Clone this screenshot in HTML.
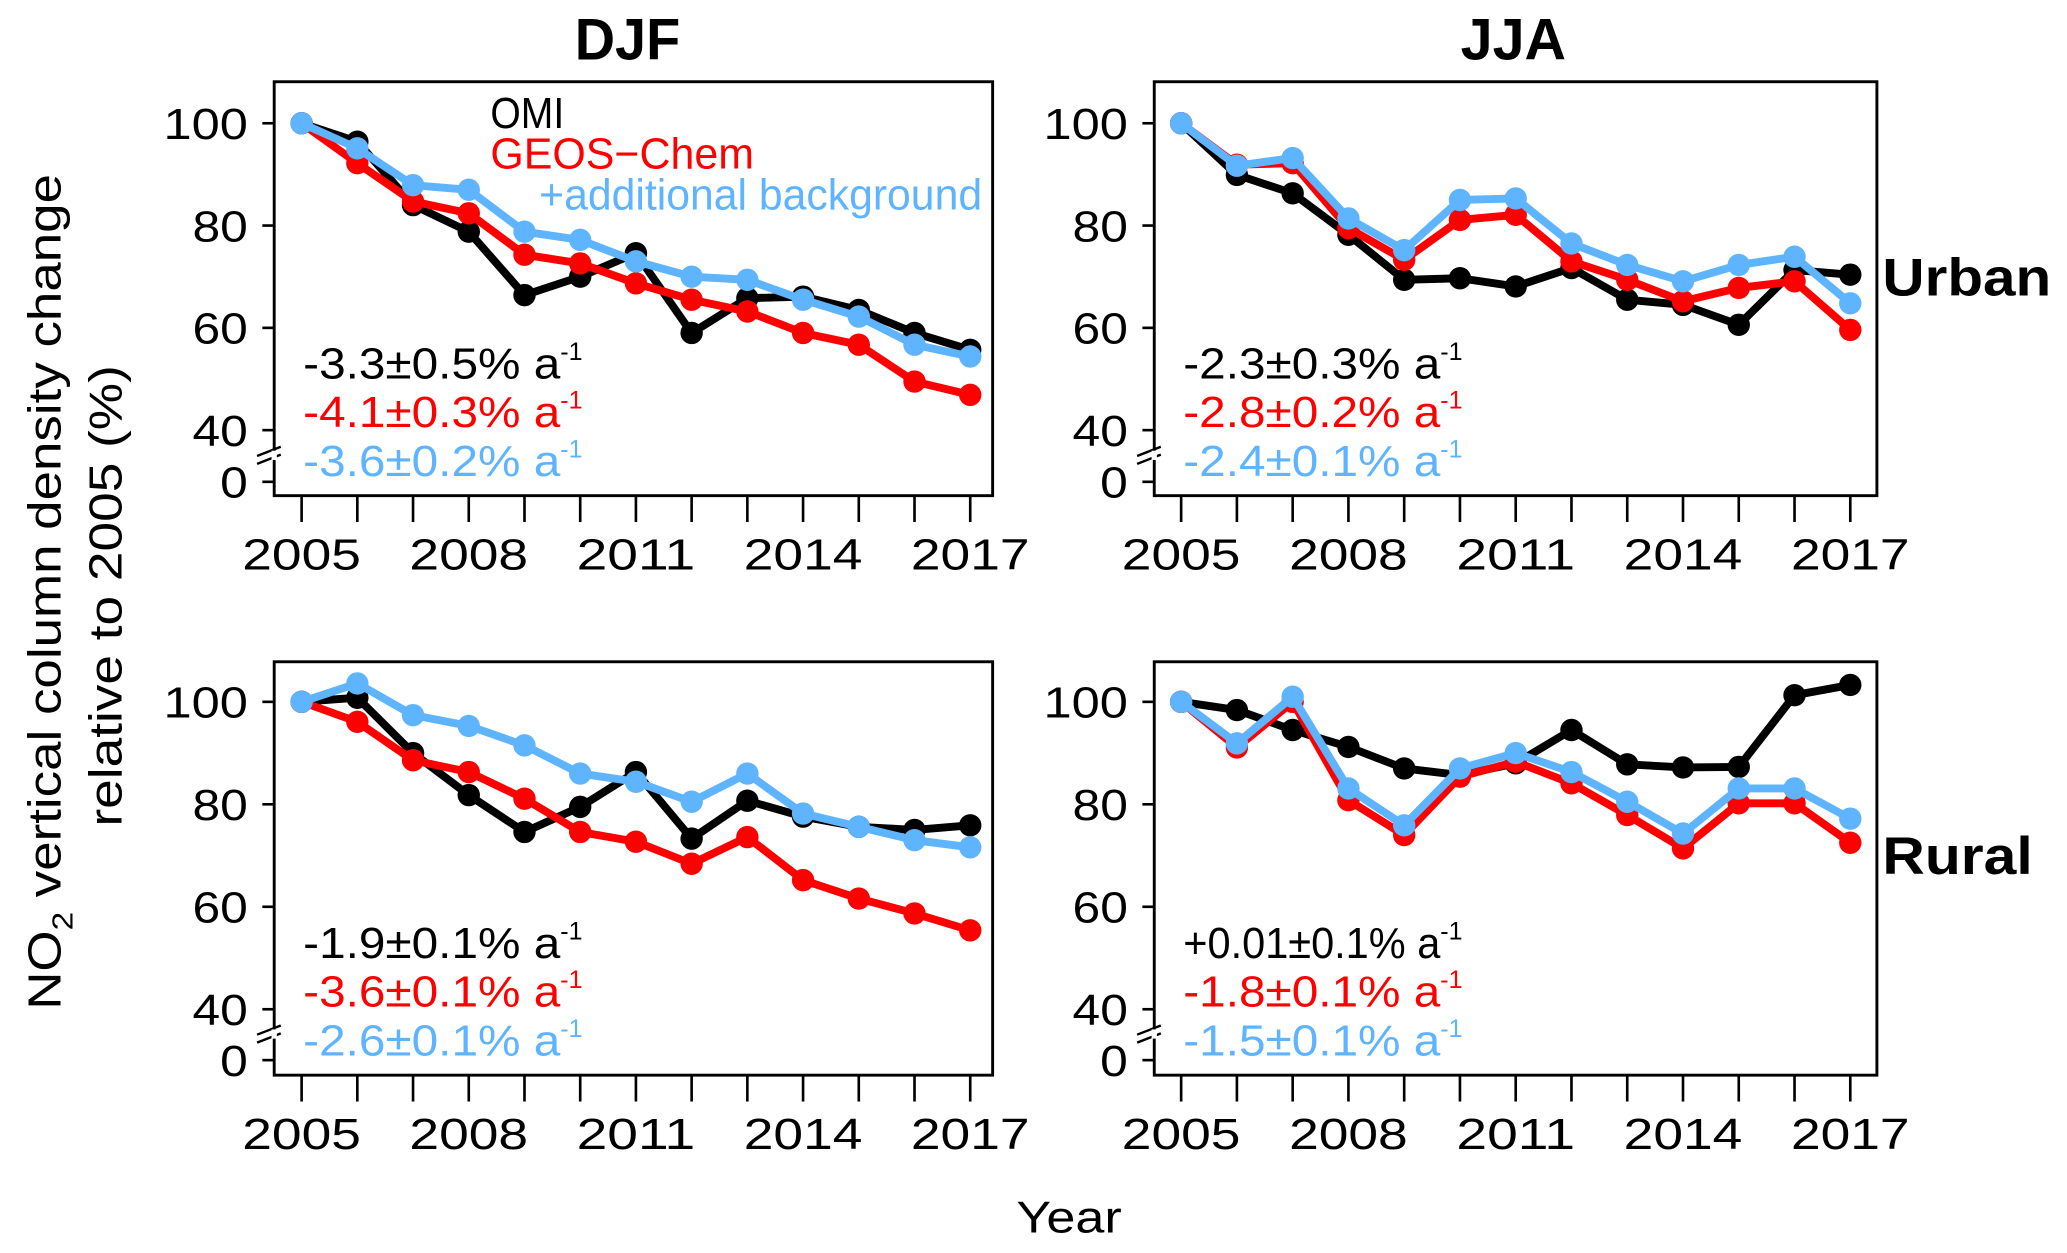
<!DOCTYPE html>
<html>
<head>
<meta charset="utf-8">
<style>
html,body{margin:0;padding:0;background:#fff;}
svg{display:block;}
text{font-family:"Liberation Sans",Arial,sans-serif;}
</style>
</head>
<body>
<svg id="fig" xmlns="http://www.w3.org/2000/svg" width="2067" height="1253" viewBox="0 0 1568 950.5">
<rect x="0" y="0" width="1568" height="950.5" fill="#fff"/>
</svg>
<script>
const years = [2005,2006,2007,2008,2009,2010,2011,2012,2013,2014,2015,2016,2017];
const xTickYears = [2005,2008,2011,2014,2017];
const yTickVals = [100,80,60,40];
const seriesNames = ['OMI','GEOS-Chem','+additional background'];
const seriesColors = ['#000000','#ff0000','#5fb4ff'];

const djfUrbanOMI  = [100,96.4,84,78.8,66.4,70,74.6,59,65.8,66.1,63.5,59,55.7];
const djfUrbanGC   = [100,92.2,84.7,82.4,74.3,72.6,68.7,65.5,63.2,59,56.7,49.5,46.9];
const djfUrbanBG   = [100,95.1,87.9,87,78.8,77.2,73,70,69.4,65.5,62.2,56.7,54.4];
const jjaUrbanOMI  = [100,89.9,86.3,78.2,69.4,69.7,68.1,71.7,65.5,64.5,60.6,71.3,70.4];
const jjaUrbanGC   = [100,91.9,92.2,79.5,73.3,81.1,82.1,73,69.4,65.2,67.8,69.1,59.6];
const jjaUrbanBG   = [100,91.7,93.2,81.4,75.2,85,85.3,76.5,72.3,69.1,72.3,73.9,64.8];
const djfRuralOMI  = [100,100.8,90,81.8,74.6,79.5,86.3,73.3,80.7,77.6,75.6,75.0,75.9];
const djfRuralGC   = [100,96.1,88.6,86.3,81.1,74.6,72.7,68.4,73.6,65.2,61.6,58.7,55.4];
const djfRuralBG   = [100,103.6,97.4,95.3,91.5,86,84.4,80.5,86,78.2,75.6,73,71.6];
const jjaRuralOMI  = [100,98.4,94.5,91.2,87,85.7,88,94.5,87.8,87.2,87.3,101.3,103.3];
const jjaRuralGC   = [100,91.1,100,80.8,74,85.4,88.3,84.1,77.9,71.4,80.2,80.2,72.5];
const jjaRuralBG   = [100,91.9,101,83.1,75.9,87,90,86.3,80.5,74.3,83.1,83.1,77.2];

const rateDjfUrban = ['-3.3\u00b10.5% a','-4.1\u00b10.3% a','-3.6\u00b10.2% a'];
const rateJjaUrban = ['-2.3\u00b10.3% a','-2.8\u00b10.2% a','-2.4\u00b10.1% a'];
const rateDjfRural = ['-1.9\u00b10.1% a','-3.6\u00b10.1% a','-2.6\u00b10.1% a'];
const rateJjaRural = ['+0.01\u00b10.1% a','-1.8\u00b10.1% a','-1.5\u00b10.1% a'];

const NS='http://www.w3.org/2000/svg';
const svg=document.getElementById('fig');
function mk(tag,attrs,parent){const e=document.createElementNS(NS,tag);for(const k in attrs)e.setAttribute(k,attrs[k]);(parent||svg).appendChild(e);return e;}

const panels=[
 {key:'djf-urban',left:208,right:753,top:62,bottom:376,y100:93.5,y40:326.3,y0:365.5,x0:228.8,x1:736,
  data:[djfUrbanOMI,djfUrbanGC,djfUrbanBG],rates:rateDjfUrban,legend:true},
 {key:'jja-urban',left:875.6,right:1423.8,top:62,bottom:376,y100:93.5,y40:326.3,y0:365.5,x0:896,x1:1403.6,
  data:[jjaUrbanOMI,jjaUrbanGC,jjaUrbanBG],rates:rateJjaUrban},
 {key:'djf-rural',left:208,right:753,top:502,bottom:815.6,y100:532.4,y40:765.6,y0:804.2,x0:228.8,x1:736,
  data:[djfRuralOMI,djfRuralGC,djfRuralBG],rates:rateDjfRural},
 {key:'jja-rural',left:875.6,right:1423.8,top:502,bottom:815.6,y100:532.4,y40:765.6,y0:804.2,x0:896,x1:1403.6,
  data:[jjaRuralOMI,jjaRuralGC,jjaRuralBG],rates:rateJjaRural}
];

panels.forEach(p=>{
  const g=mk('g',{});
  
  
  const xs=v=>p.x0+(v-years[0])*(p.x1-p.x0)/(years[years.length-1]-years[0]);
  const ys=v=>p.y100+(100-v)*(p.y40-p.y100)/60;
  const fr=mk('rect',{x:p.left,y:p.top,width:p.right-p.left,height:p.bottom-p.top,fill:'none',stroke:'#000','stroke-width':2.2},g);
  
  
  yTickVals.forEach(v=>{
    const y=ys(v);
    mk('line',{x1:p.left-9,x2:p.left,y1:y,y2:y,stroke:'#000','stroke-width':2},g);
    const t=mk('text',{x:p.left-20,y:y+12,'text-anchor':'end','font-size':33,textLength:v===100?64:42,lengthAdjust:'spacingAndGlyphs'},g);
    t.textContent=v;
    
    
  });
  mk('line',{x1:p.left-9,x2:p.left,y1:p.y0,y2:p.y0,stroke:'#000','stroke-width':2},g);
  const t0=mk('text',{x:p.left-20,y:p.y0+12,'text-anchor':'end','font-size':33,textLength:21,lengthAdjust:'spacingAndGlyphs'},g);
  t0.textContent='0';
  
  
  const by=(p.y40+p.y0)/2+1;
  const br=mk('path',{d:`M${p.left-13},${by-1} L${p.left+5},${by-8} M${p.left-13},${by+5} L${p.left+5},${by-2}`,stroke:'#000','stroke-width':1.8,fill:'none'},g);
  
  
  mk('rect',{x:p.left-2,y:by-5,width:4,height:7,fill:'#fff'},g);
  years.forEach(yr=>{
    const x=xs(yr);
    mk('line',{x1:x,x2:x,y1:p.bottom,y2:p.bottom+20,stroke:'#000','stroke-width':2},g);
  });
  xTickYears.forEach(yr=>{
    const t=mk('text',{x:xs(yr),y:p.bottom+56,'text-anchor':'middle','font-size':33,textLength:90,lengthAdjust:'spacingAndGlyphs'},g);
    t.textContent=yr;
    
    
  });
  p.data.forEach((arr,si)=>{
    const sg=mk('g',{},g);
    
    
    const pts=arr.map((v,i)=>xs(years[i])+','+ys(v)).join(' ');
    mk('polyline',{points:pts,fill:'none',stroke:seriesColors[si],'stroke-width':6,'stroke-linejoin':'round'},sg);
    arr.forEach((v,i)=>{
      const c=mk('circle',{cx:xs(years[i]),cy:ys(v),r:8.5,fill:seriesColors[si]},sg);
      
      
    });
  });
  p.rates.forEach((r,i)=>{
    const by2=p.bottom-89+i*37;
    const t=mk('text',{x:p.left+22,y:by2,'font-size':33,fill:seriesColors[i]},g);
    const s1=mk('tspan',{textLength:195,lengthAdjust:'spacingAndGlyphs'},t);
    s1.textContent=r;
    const s2=mk('tspan',{dy:-14,'font-size':19},t);
    s2.textContent='-1';
    
    
  });
  if(p.legend){
    const l1=mk('text',{x:372,y:97,'font-size':33,fill:'#000',textLength:56,lengthAdjust:'spacingAndGlyphs'});
    l1.textContent='OMI';
    
    
    const l2=mk('text',{x:372,y:128,'font-size':33,fill:'#ff0000',textLength:200,lengthAdjust:'spacingAndGlyphs'});
    l2.textContent='GEOS\u2212Chem';
    
    
    const l3=mk('text',{x:409,y:159,'font-size':33,fill:'#5fb4ff',textLength:336,lengthAdjust:'spacingAndGlyphs'});
    l3.textContent='+additional background';
    
    
  }
});

function label(txt,attrs,name){const t=mk('text',attrs);t.textContent=txt;return t;}
label('DJF',{x:476,y:45,'text-anchor':'middle','font-size':44,'font-weight':'bold',textLength:80,lengthAdjust:'spacingAndGlyphs'},'title-djf');
label('JJA',{x:1148,y:45,'text-anchor':'middle','font-size':44,'font-weight':'bold',textLength:80,lengthAdjust:'spacingAndGlyphs'},'title-jja');
label('Urban',{x:1428,y:224,'font-size':40,'font-weight':'bold',textLength:128,lengthAdjust:'spacingAndGlyphs'},'row-label-urban');
label('Rural',{x:1428,y:663,'font-size':40,'font-weight':'bold',textLength:114,lengthAdjust:'spacingAndGlyphs'},'row-label-rural');
label('Year',{x:811,y:935,'text-anchor':'middle','font-size':34,textLength:80,lengthAdjust:'spacingAndGlyphs'},'x-axis-title');
const yt=mk('text',{transform:'translate(46,449) rotate(-90)','text-anchor':'middle','font-size':35});


const a=mk('tspan',{},yt);a.textContent='NO';
const b=mk('tspan',{dy:9,'font-size':22},yt);b.textContent='2';
const c=mk('tspan',{dy:-9},yt);c.textContent=' vertical column density change';
yt.setAttribute('textLength',634);yt.setAttribute('lengthAdjust','spacingAndGlyphs');
const yt2=mk('text',{transform:'translate(92,452) rotate(-90)','text-anchor':'middle','font-size':35,textLength:350,lengthAdjust:'spacingAndGlyphs'});
yt2.textContent='relative to 2005 (%)';


</script>
</body>
</html>
